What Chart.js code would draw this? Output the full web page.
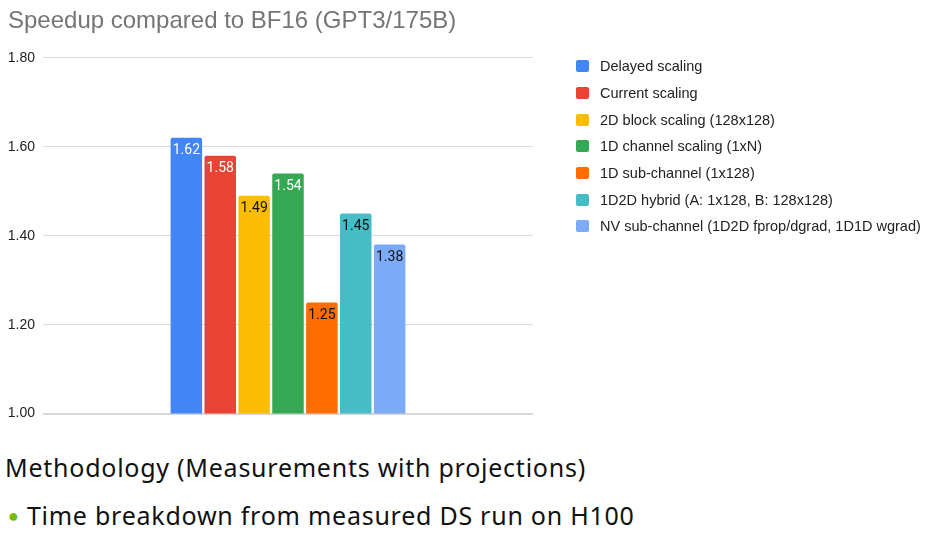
<!DOCTYPE html>
<html>
<head>
<meta charset="utf-8">
<script src="https://cdn.jsdelivr.net/npm/chart.js@4.4.1/dist/chart.umd.min.js"></script>
<style>
  body { margin: 0; background: #fff; width: 925px; height: 533px; overflow: hidden; position: relative; }
  .chart-wrap { position: absolute; left: 0; top: 0; width: 925px; height: 430px; }
  #legend { position: absolute; left: 576px; top: 53px; margin: 0; padding: 0;
    font-family: "Liberation Sans", Arial, sans-serif; font-size: 14.5px; color: #222; }
  #legend li { list-style: none; height: 26.67px; display: flex; align-items: center; white-space: nowrap; }
  #legend .box { width: 13px; height: 12px; border-radius: 2px; margin-right: 11px; flex: none; }
  .note { position: absolute; left: 5px; font-family: "Noto Sans", sans-serif; font-size: 25px; letter-spacing: 0.75px;
    color: #111; white-space: nowrap; line-height: 1; }
  .note.l1 { top: 455px; }
  .note.l2 { top: 503px; left: 8px; }
  .note .dot { color: #76b900; font-size: 18px; margin-right: 8px; position: relative; top: -3px; letter-spacing: 0; }
</style>
</head>
<body>
<div class="chart-wrap"><canvas id="myChart"></canvas></div>
<ul id="legend"></ul>
<div class="note l1">Methodology (Measurements with projections)</div>
<div class="note l2"><span class="dot">●</span>Time breakdown from measured DS run on H100</div>
<script>
// values
const categories = [""];
const seriesNames = [
  "Delayed scaling",
  "Current scaling",
  "2D block scaling (128x128)",
  "1D channel scaling (1xN)",
  "1D sub-channel (1x128)",
  "1D2D hybrid (A: 1x128, B: 128x128)",
  "NV sub-channel (1D2D fprop/dgrad, 1D1D wgrad)",
];
const seriesValues = [1.62, 1.58, 1.49, 1.54, 1.25, 1.45, 1.38];
const yTicks = [1.0, 1.2, 1.4, 1.6, 1.8];

// styles
const barColors = ["#4285F4", "#EA4335", "#FBBC04", "#34A853", "#FF6D01", "#46BDC6", "#7BAAF7"];
const labelColors = ["#fff", "#fff", "#111", "#fff", "#111", "#111", "#111"];

const valueLabels = {
  id: "valueLabels",
  afterDatasetsDraw(chart) {
    const ctx = chart.ctx;
    ctx.save();
    ctx.font = "14px Roboto";
    ctx.textAlign = "center";
    ctx.textBaseline = "middle";
    chart.data.datasets.forEach((ds, i) => {
      const bar = chart.getDatasetMeta(i).data[0];
      ctx.fillStyle = labelColors[i];
      ctx.fillText(ds.data[0].toFixed(2), bar.x, bar.y + 13);
    });
    ctx.restore();
  },
};

const htmlLegend = {
  id: "htmlLegend",
  afterUpdate(chart) {
    const ul = document.getElementById("legend");
    ul.innerHTML = "";
    chart.options.plugins.legend.labels.generateLabels(chart).forEach((item) => {
      const li = document.createElement("li");
      const box = document.createElement("span");
      box.className = "box";
      box.style.background = item.fillStyle;
      li.appendChild(box);
      li.appendChild(document.createTextNode(item.text));
      ul.appendChild(li);
    });
  },
};

const ctx = document.getElementById("myChart").getContext("2d");
const chart = new Chart(ctx, {
  type: "bar",
  data: {
    labels: categories,
    datasets: seriesNames.map((name, i) => ({
      label: name,
      data: [seriesValues[i]],
      backgroundColor: barColors[i],
      borderRadius: 2,
      borderSkipped: false,
      categoryPercentage: 0.484,
      barPercentage: 0.93,
    })),
  },
  options: {
    responsive: true,
    maintainAspectRatio: false,
    animation: false,
    layout: { padding: { left: 8, right: 392, top: 0, bottom: 15 } },
    plugins: {
      legend: { display: false },
      tooltip: { enabled: false },
      title: {
        display: true,
        text: "Speedup compared to BF16 (GPT3/175B)",
        align: "start",
        color: "#757575",
        font: { family: "Liberation Sans", size: 24, weight: "normal" },
        padding: { top: 7, bottom: 22 },
      },
    },
    scales: {
      x: { display: false },
      y: {
        min: yTicks[0],
        max: yTicks[yTicks.length - 1],
        afterBuildTicks: (scale) => {
          scale.ticks = yTicks.map((v) => ({ value: v }));
        },
        afterFit: (scale) => {
          scale.width = 35;
        },
        ticks: {
          callback: (v) => Number(v).toFixed(2),
          color: "#222",
          padding: 8,
          font: { family: "Liberation Sans", size: 14 },
        },
        grid: {
          drawTicks: false,
          color: (c) => (c.tick && c.tick.value === 1 ? "#d6d6d6" : "#dadada"),
          lineWidth: (c) => (c.tick && c.tick.value === 1 ? 2 : 1),
        },
        border: { display: false },
      },
    },
  },
  plugins: [valueLabels, htmlLegend],
});
</script>
</body>
</html>
